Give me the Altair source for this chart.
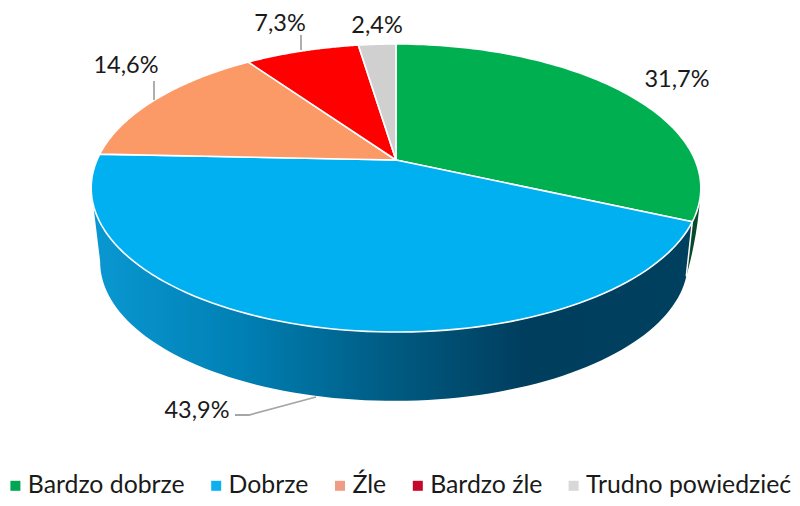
import math
import altair as alt

categories = ["Bardzo dobrze", "Dobrze", "Źle", "Bardzo źle", "Trudno powiedzieć"]
values = [31.7, 43.9, 14.6, 7.3, 2.4]
slice_colors = ["#00b050", "#00b0f0", "#fb9a66", "#ff0000", "#d0d0d0"]
legend_colors = ["#00a654", "#0db0ee", "#ee9c86", "#c4082c", "#d8d8d8"]
label_texts = ["31,7%", "43,9%", "14,6%", "7,3%", "2,4%"]
label_x = [677, 197, 126, 280, 377]
label_y = [80, 411, 66, 23.5, 25.5]

# tilted-disc geometry (page pixels)
CX, CY, A, B, K = 396, 160, 299, 138.6, 0.1945
BCX, BCY, S = 394, 235, 0.964


def top(t):
    w = 1 + K * math.cos(t)
    return [CX + A * math.sin(t) / w, CY - B * math.cos(t) / w]


def bottom(t):
    w = 1 + K * math.cos(t)
    return [BCX + S * A * math.sin(t) / w, BCY - S * B * math.cos(t) / w]


def frange(a, b, n=90):
    return [a + (b - a) * i / n for i in range(n + 1)]


def feat(name, coords, kind="Polygon"):
    geom = coords if kind == "LineString" else [coords + [coords[0]]]
    return {"type": "Feature", "properties": {"name": name},
            "geometry": {"type": kind, "coordinates": geom}}


total = sum(values)
edges = [0.0]
for v in values:
    edges.append(edges[-1] + v / total * 2 * math.pi)

slices = []
for i, c in enumerate(categories):
    f = feat(c, [[CX, CY]] + [top(t) for t in frange(edges[i], edges[i + 1])])
    f["properties"]["fill"] = slice_colors[i]
    slices.append(f)

e1 = edges[1]
tl = math.radians(259)
tr = math.radians(107)
tg = math.radians(100)
blue_wall = [feat("wall", [top(t) for t in frange(e1, tl)] + [bottom(t) for t in frange(tl, tr)])]

# outer silhouette of the small dark-green wall bulges out slightly
p0, p2 = top(tg), bottom(tr)
ctrl = [699, 231]
outer = [
    [(1 - u) ** 2 * p0[j] + 2 * u * (1 - u) * ctrl[j] + u ** 2 * p2[j] for j in (0, 1)]
    for u in frange(1, 0, 20)
]
green_wall = [feat("wall", [top(t) for t in frange(tg, e1, 20)] + outer)]
wall_seam = [feat("seam", [top(e1), bottom(tr)], "LineString")]

leaders = [
    feat("a", [[154, 81], [154, 100]], "LineString"),
    feat("b", [[301, 35], [301, 50]], "LineString"),
    feat("c", [[235, 415], [249, 415], [316, 397]], "LineString"),
]

proj = dict(type="identity", scale=1, translate=[-8, -8])

legend_layer = (
    alt.Chart(alt.Data(values=slices))
    .mark_geoshape(strokeWidth=0)
    .encode(
        color=alt.Color(
            "properties.name:N",
            scale=alt.Scale(domain=categories, range=legend_colors),
            sort=categories,
            legend=alt.Legend(
                title=None,
                orient="none",
                legendX=-5,
                legendY=465,
                direction="horizontal",
                columns=5,
                symbolType="square",
                symbolSize=100,
                symbolStrokeWidth=0,
                labelFont="Lato",
                labelFontSize=24.8,
                labelColor="#1a1a1a",
                labelOffset=0,
                columnPadding=18.8,
                labelLimit=300,
                padding=0,
            ),
        )
    )
    .project(**proj)
)

wall_gradient = alt.Gradient(
    gradient="linear", x1=0, x2=1, y1=0, y2=0,
    stops=[
        alt.GradientStop(offset=0, color="#0a98d2"),
        alt.GradientStop(offset=0.25, color="#0080b4"),
        alt.GradientStop(offset=0.5, color="#005b82"),
        alt.GradientStop(offset=0.72, color="#003e5e"),
        alt.GradientStop(offset=1, color="#00405f"),
    ],
)

green_layer = alt.Chart(alt.Data(values=green_wall)).mark_geoshape(fill="#07492a", strokeWidth=0).project(**proj)
blue_layer = alt.Chart(alt.Data(values=blue_wall)).mark_geoshape(fill=wall_gradient, strokeWidth=0).project(**proj)
seam_layer = (
    alt.Chart(alt.Data(values=wall_seam))
    .mark_geoshape(filled=False, stroke="white", strokeWidth=1.5)
    .project(**proj)
)
top_layer = (
    alt.Chart(alt.Data(values=slices))
    .mark_geoshape(stroke="white", strokeWidth=1.6, strokeJoin="round")
    .encode(fill=alt.Fill("properties.fill:N", scale=None))
    .project(**proj)
)
leader_layer = (
    alt.Chart(alt.Data(values=leaders))
    .mark_geoshape(filled=False, stroke="#a6a6a6", strokeWidth=1.8)
    .project(**proj)
)
text_layer = (
    alt.Chart(alt.Data(values=[
        {"t": t, "lon": x, "lat": y} for t, x, y in zip(label_texts, label_x, label_y)
    ]))
    .mark_text(font="Lato", fontSize=23.5, color="#1a1a1a", baseline="middle", align="center")
    .encode(longitude="lon:Q", latitude="lat:Q", text="t:N")
    .project(**proj)
)

chart = (
    alt.layer(legend_layer, green_layer, blue_layer, seam_layer, top_layer, leader_layer, text_layer)
    .properties(width=784, height=490, padding=0, autosize=alt.AutoSizeParams(type="none"), background="white")
    .configure_view(strokeWidth=0)
)

chart.save("out.html", embed_options={"renderer": "svg", "actions": False})
